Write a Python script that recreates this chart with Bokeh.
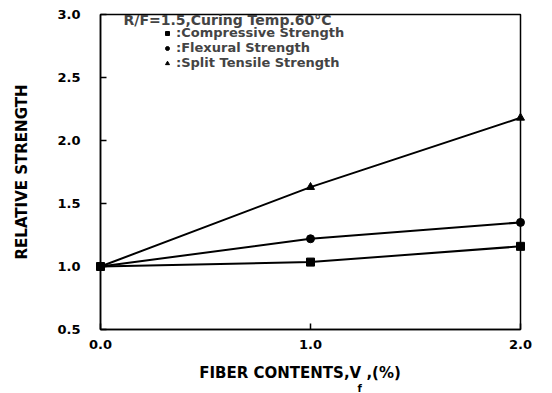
from bokeh.plotting import figure
from bokeh.models import Range1d, FixedTicker, Label, Legend, LegendItem, Title
from bokeh.embed import file_html
from bokeh.resources import INLINE

# Relative strength versus steel fibre content (R/F = 1.5, cured at 60 °C)
fiber_contents = [0.0, 1.0, 2.0]
compressive = [1.00, 1.035, 1.16]
flexural = [1.00, 1.22, 1.35]
split_tensile = [1.00, 1.63, 2.18]

x_ticks = [0.0, 1.0, 2.0]
y_ticks = [0.5, 1.0, 1.5, 2.0, 2.5, 3.0]

FONT = "DejaVu Sans"

p = figure(width=552, height=393, output_backend="svg", toolbar_location=None,
           x_range=Range1d(0, 2), y_range=Range1d(0.5, 3.0),
           min_border_left=100, min_border_right=32,
           min_border_top=14, min_border_bottom=64)
p.background_fill_color = "white"
p.border_fill_color = "white"
p.outline_line_color = "black"
p.outline_line_width = 1.5
p.grid.visible = False

for ax in (p.xaxis[0], p.yaxis[0]):
    ax.axis_line_width = 1.5
    ax.major_tick_in = 6
    ax.major_tick_out = 0
    ax.minor_tick_line_color = None
    ax.major_tick_line_width = 1.5
    ax.major_label_text_font = FONT
    ax.major_label_text_font_style = "bold"
    ax.major_label_text_font_size = "13px"
    ax.major_label_text_color = "black"
    ax.axis_label_text_font = FONT
    ax.axis_label_text_font_style = "bold"
    ax.axis_label_text_font_size = "15px"
    ax.axis_label_text_color = "black"

p.xaxis.ticker = FixedTicker(ticks=x_ticks)
p.yaxis.ticker = FixedTicker(ticks=y_ticks)
p.xaxis.major_label_overrides = {t: f"{t:.1f}" for t in x_ticks}
p.yaxis.major_label_overrides = {t: f"{t:.1f}" for t in y_ticks}
p.xaxis.major_label_standoff = 10
p.yaxis.major_label_standoff = 20

p.yaxis.axis_label = "RELATIVE STRENGTH"
p.yaxis.axis_label_standoff = 23

# the gap after "V" takes the subscript "f", drawn as a title tucked
# right under the axis-label line
p.xaxis.axis_label = "FIBER CONTENTS,V  ,(%)\u00a0\u00a0\u00a0"
p.xaxis.axis_label_standoff = 12
p.add_layout(Title(text="f", align="left", offset=257, standoff=-18,
                   text_font=FONT, text_font_style="bold",
                   text_font_size="10px", text_color="black"), "below")

series = [
    (compressive, "square", ":Compressive Strength"),
    (flexural, "circle", ":Flexural Strength"),
    (split_tensile, "triangle", ":Split Tensile Strength"),
]

items = []
for vals, marker, name in series:
    p.line(fiber_contents, vals, line_color="black", line_width=2)
    r = p.scatter(fiber_contents, vals, marker=marker, size=8,
                  fill_color="black", line_color="black", level="overlay")
    items.append(LegendItem(label=name, renderers=[r]))

p.add_layout(Label(x=23, y=302, x_units="screen", y_units="screen",
                   text="R/F=1.5,Curing Temp.60\u00b0C", text_font=FONT,
                   text_font_style="bold", text_font_size="14px"))

legend = Legend(items=items, location=(62, 259), orientation="vertical",
                background_fill_alpha=0, border_line_color=None,
                glyph_width=10, glyph_height=10, label_standoff=4,
                spacing=0, padding=0, margin=0,
                label_text_font=FONT, label_text_font_style="bold",
                label_text_font_size="13px", label_height=12)
p.add_layout(legend)

open("out.html", "w").write(file_html(p, INLINE))
